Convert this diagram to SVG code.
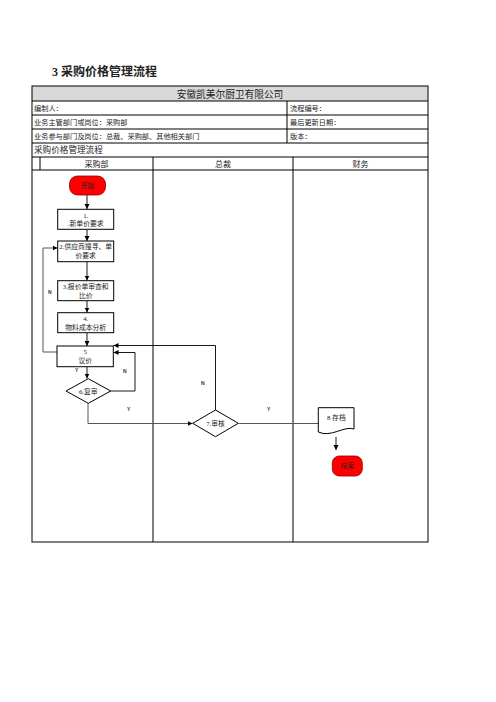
<svg xmlns="http://www.w3.org/2000/svg" width="496" height="702" viewBox="0 0 496 702">
<style>
.t{font-family:"Liberation Serif","Noto Sans CJK SC",serif;fill:#222}
.tb{stroke:#000;stroke-width:1;fill:none}
.box{fill:#fff;stroke:#000;stroke-width:1}
.term{fill:#f00;stroke:#800;stroke-width:0.8}
.c{stroke:#000;stroke-width:0.9;fill:none}
.cg{stroke:#555;stroke-width:1;fill:none}
.lbl{font-family:"Liberation Sans",sans-serif;font-size:5px;fill:#333;font-weight:bold}
.nt{font-family:"Liberation Serif","Noto Sans CJK SC",serif;font-size:6.8px;fill:#222}
</style>
<defs>
<marker id="a" markerWidth="6" markerHeight="6" refX="5" refY="3" orient="auto" markerUnits="userSpaceOnUse"><path d="M0,0.5 L5,3 L0,5.5 Z" fill="#000"/></marker>
</defs>
<rect width="496" height="702" fill="#fff"/>
<text class="t" x="52" y="76" font-size="12" font-weight="bold" fill="#000">3 采购价格管理流程</text>
<g id="table">
<rect x="32" y="86" width="396" height="15" fill="#d9d9d9"/>
<rect x="32" y="86" width="396" height="456" class="tb"/>
<path class="tb" d="M32,101H428M32,115H428M32,129H428M32,143H428M32,157H428M32,170H428M287,101V143M40,157V170M153,157V542M293,157V542"/>
<text class="t" x="230" y="97.5" font-size="9.7" text-anchor="middle">安徽凯美尔厨卫有限公司</text>
<text class="t" x="34" y="111" font-size="7.2">编制人：</text>
<text class="t" x="34" y="125" font-size="7.2">业务主管部门或岗位：采购部</text>
<text class="t" x="34" y="139" font-size="7.2">业务参与部门及岗位：总裁、采购部、其他相关部门</text>
<text class="t" x="290" y="111" font-size="7.2">流程编号：</text>
<text class="t" x="290" y="125" font-size="7.2">最后更新日期：</text>
<text class="t" x="290" y="139" font-size="7.2">版本：</text>
<text class="t" x="34" y="153" font-size="8.6">采购价格管理流程</text>
<text class="t" x="96.5" y="166.5" font-size="8" text-anchor="middle">采购部</text>
<text class="t" x="223" y="166.5" font-size="8" text-anchor="middle">总裁</text>
<text class="t" x="360.5" y="166.5" font-size="8" text-anchor="middle">财务</text>
</g>
<g id="connectors">
<path class="c" d="M87,195V209" marker-end="url(#a)"/>
<path class="c" d="M87,229.5V241" marker-end="url(#a)"/>
<path class="c" d="M87,262V280.5" marker-end="url(#a)"/>
<path class="c" d="M87,301V312.5" marker-end="url(#a)"/>
<path class="c" d="M87,333V346" marker-end="url(#a)"/>
<path class="c" d="M87,367V378.5" marker-end="url(#a)"/>
<path class="cg" d="M57,352H43V248H57.5" marker-end="url(#a)"/>
<path class="c" d="M110.5,391H135V352.5H113.5" marker-end="url(#a)"/>
<path class="cg" d="M88,403.5V423.5H192.5" marker-end="url(#a)"/>
<path class="c" d="M215.5,410V345.5H113.5" marker-end="url(#a)"/>
<path class="cg" d="M238.5,423.5H327" marker-end="url(#a)"/>
<path class="c" d="M336,437V450" marker-end="url(#a)"/>
<text class="lbl" x="48" y="294">N</text>
<text class="lbl" x="75" y="372">Y</text>
<text class="lbl" x="123" y="373">N</text>
<text class="lbl" x="127" y="411">Y</text>
<text class="lbl" x="201" y="385">N</text>
<text class="lbl" x="267" y="411">Y</text>
</g>
<g id="n0"><rect x="69.5" y="176" width="36" height="19" rx="8" class="term"/><text class="nt" x="87.5" y="188" text-anchor="middle" fill="#600" font-size="6">开始</text></g>
<g id="n1"><rect x="57.7" y="209.3" width="56" height="20" class="box"/><text class="nt" x="85.7" y="217.5" text-anchor="middle">1.</text><text class="nt" x="85.7" y="226" text-anchor="middle">.新单价要求</text></g>
<g id="n2"><rect x="57.7" y="241" width="56" height="20.7" class="box"/><text class="nt" x="85.7" y="249" text-anchor="middle">2.供应商搜寻、单</text><text class="nt" x="85.7" y="258" text-anchor="middle">价要求</text></g>
<g id="n3"><rect x="57.7" y="280.7" width="56" height="20" class="box"/><text class="nt" x="85.7" y="288.5" text-anchor="middle">3.报价单审查和</text><text class="nt" x="85.7" y="297.5" text-anchor="middle">比价</text></g>
<g id="n4"><rect x="57.7" y="312.7" width="56" height="20" class="box"/><text class="nt" x="85.7" y="320.5" text-anchor="middle">4.</text><text class="nt" x="85.7" y="329.5" text-anchor="middle">物料成本分析</text></g>
<g id="n5"><rect x="57" y="346" width="56.3" height="20.7" class="box"/><text class="nt" x="85.2" y="354" text-anchor="middle">5</text><text class="nt" x="85.2" y="363" text-anchor="middle">议价</text></g>
<g id="n6"><path d="M66,391L88.3,378.7L110.7,391L88.3,403.3Z" class="box"/><text class="nt" x="88.3" y="393.5" text-anchor="middle">6.复审</text></g>
<g id="n7"><path d="M192.7,423.3L215.5,410L238.3,423.3L215.5,436.7Z" class="box"/><text class="nt" x="215.5" y="425.8" text-anchor="middle">7.审核</text></g>
<g id="n8"><path d="M318.3,407.7H354V429C344,425.5 331,438 318.3,432Z" class="box"/><text class="nt" x="327" y="420">8 存档</text></g>
<g id="n9"><rect x="332.3" y="456" width="30" height="20" rx="7" class="term"/><text class="nt" x="347.3" y="468" text-anchor="middle" fill="#600" font-size="6">结束</text></g>
</svg>
